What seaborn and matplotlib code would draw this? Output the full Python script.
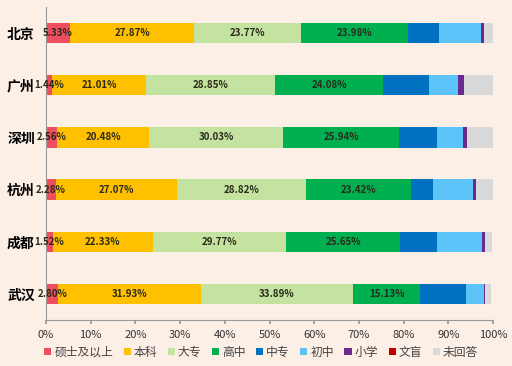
import numpy as np
import pandas as pd
import seaborn as sns
import matplotlib.pyplot as plt
from matplotlib.patches import Patch
from matplotlib.ticker import FuncFormatter, MultipleLocator

# education level share (%) per city
cities = ['北京', '广州', '深圳', '杭州', '成都', '武汉']
levels = ['硕士及以上', '本科', '大专', '高中', '中专', '初中', '小学', '文盲', '未回答']

shuoshi = [5.33, 1.44, 2.56, 2.28, 1.52, 2.80]
benke   = [27.87, 21.01, 20.48, 27.07, 22.33, 31.93]
dazhuan = [23.77, 28.85, 30.03, 28.82, 29.77, 33.89]
gaozhong = [23.98, 24.08, 25.94, 23.42, 25.65, 15.13]
zhongzhuan = [6.9, 10.3, 8.4, 5.0, 8.3, 10.3]
chuzhong = [9.5, 6.4, 5.8, 9.0, 9.9, 3.9]
xiaoxue = [0.6, 1.4, 0.9, 0.7, 0.7, 0.3]
wenmang = [0.0, 0.0, 0.0, 0.0, 0.0, 0.0]
weihuida = [1.95, 6.4, 5.8, 3.6, 1.7, 1.3]

colors = ['#EC5060', '#FFC000', '#C4E3A0', '#00B050', '#0070C0',
          '#5CC4F8', '#6A2A90', '#C00000', '#D9D9D9']
bg = '#FBEFE6'

df = pd.DataFrame({'city': cities})
for name, vals in zip(levels, [shuoshi, benke, dazhuan, gaozhong, zhongzhuan,
                               chuzhong, xiaoxue, wenmang, weihuida]):
    df[name] = vals

sns.set_theme(style='white')
plt.rcParams['font.family'] = ['Noto Sans CJK SC', 'DejaVu Sans']

fig = plt.figure(figsize=(5.12, 3.66), dpi=100, facecolor=bg)
ax = fig.add_axes([0.0898, 0.1257, 0.8732, 0.855])
ax.set_facecolor(bg)

# stacked bars: draw cumulative totals from the largest down
cum = df[levels].cumsum(axis=1)
for i in range(len(levels) - 1, -1, -1):
    sns.barplot(x=cum[levels[i]], y=df['city'], color=colors[i], orient='h',
                width=0.39, saturation=1, ax=ax, edgecolor='none')

# value labels for the first four levels
for r in range(len(cities)):
    left = 0.0
    for j in range(4):
        v = df[levels[j]].iloc[r]
        ax.text(left + v / 2, r, f'{v:.2f}%', ha='center', va='center',
                fontsize=7, fontweight='bold', color='#2a2a1a')
        left += v

ax.set_xlim(0, 100)
ax.set_ylim(5.5, -0.5)
ax.xaxis.set_major_locator(MultipleLocator(10))
ax.xaxis.set_major_formatter(FuncFormatter(lambda x, p: f'{x:.0f}%'))
ax.set_yticks(range(len(cities)))
ax.set_yticklabels(cities, fontsize=10, fontweight='bold', color='black')
ax.set_yticks(np.arange(-0.5, 6, 1), minor=True)
ax.tick_params(axis='y', which='major', length=0, pad=8)
ax.tick_params(axis='y', which='minor', length=4, color='#999999', direction='out')
ax.tick_params(axis='x', length=3, color='#999999', labelsize=8, pad=4)
for lab in ax.get_xticklabels():
    lab.set_color('#333333')
ax.tick_params(axis='x', bottom=True)
ax.set_xlabel('')
ax.set_ylabel('')
for s in ['top', 'right']:
    ax.spines[s].set_visible(False)
for s in ['left', 'bottom']:
    ax.spines[s].set_color('#999999')
    ax.spines[s].set_linewidth(0.8)

handles = [Patch(facecolor=c, edgecolor='none', label=l) for c, l in zip(colors, levels)]
fig.legend(handles=handles, loc='center', bbox_to_anchor=(0.51, 0.038), ncol=9,
           frameon=False, fontsize=8.5, handlelength=0.6, handleheight=0.6,
           handletextpad=0.25, columnspacing=0.9, labelcolor='#444444')

fig.savefig('out.png', dpi=100, facecolor=bg)
